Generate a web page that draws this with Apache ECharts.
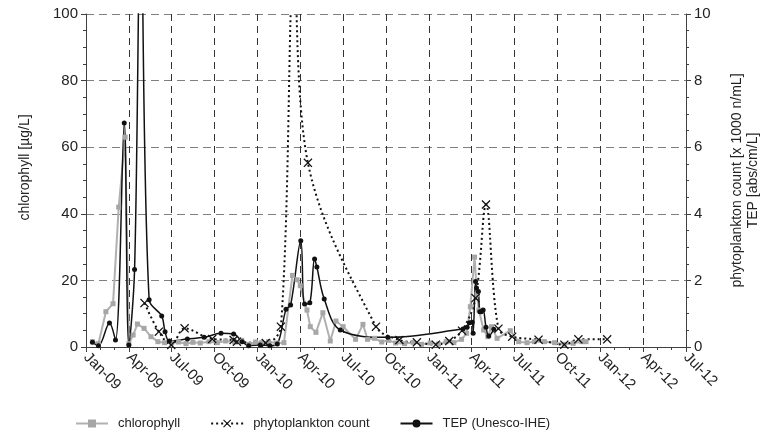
<!DOCTYPE html>
<html>
<head>
<meta charset="utf-8">
<script src="https://cdn.jsdelivr.net/npm/echarts@6/dist/echarts.min.js"></script>
<style>
    html, body { margin: 0; padding: 0; background: #fff; }
    #chart { width: 769px; height: 448px; }
</style>
</head>
<body>
<div id="chart"></div>
<script>
    // x axis: one tick every quarter from Jan-09 to Jul-12
    var xTickLabels = ['Jan-09', 'Apr-09', 'Jul-09', 'Oct-09', 'Jan-10', 'Apr-10', 'Jul-10', 'Oct-10',
        'Jan-11', 'Apr-11', 'Jul-11', 'Oct-11', 'Jan-12', 'Apr-12', 'Jul-12']

    // chlorophyll [ug/L] - left axis
    var chlDates = ['2009-01-15', '2009-01-28', '2009-02-12', '2009-02-26', '2009-03-10', '2009-03-24', '2009-04-01',
        '2009-04-10', '2009-04-19', '2009-05-03', '2009-05-18', '2009-06-02', '2009-06-16', '2009-07-01', '2009-07-16',
        '2009-08-01', '2009-08-16', '2009-09-01', '2009-09-19', '2009-10-07', '2009-10-25', '2009-11-13', '2009-11-28',
        '2009-12-13', '2009-12-28', '2010-01-10', '2010-01-25', '2010-02-10', '2010-02-25', '2010-03-15', '2010-03-25',
        '2010-04-01', '2010-04-15', '2010-04-22', '2010-05-04', '2010-05-19', '2010-06-04', '2010-06-16', '2010-07-01',
        '2010-07-28', '2010-08-13', '2010-08-23', '2010-09-07', '2010-09-22', '2010-10-07', '2010-10-22', '2010-11-10',
        '2010-11-28', '2010-12-16', '2011-01-04', '2011-01-22', '2011-02-07', '2011-02-22', '2011-03-10', '2011-03-21',
        '2011-03-29', '2011-04-07', '2011-04-12', '2011-04-16', '2011-04-26', '2011-05-05', '2011-05-13', '2011-05-25',
        '2011-06-22', '2011-07-10', '2011-07-28', '2011-08-13', '2011-09-04', '2011-09-25', '2011-10-16', '2011-11-04',
        '2011-11-22', '2011-12-01']
    var chlValues = [1.6, 1.0, 10.6, 13, 42, 63, 1.0,
        3.6, 6.9, 5.6, 3.1, 1.6, 1.3, 1.2, 1.5,
        1.0, 1.4, 1.2, 1.6, 1.3, 1.8, 1.5, 2.0,
        0.8, 1.5, 1.3, 1.6, 1.2, 1.3, 21.5, 20.2,
        18.4, 11.1, 6.1, 4.4, 10.3, 1.8, 7.8, 6.1,
        2.3, 6.8, 2.3, 2.6, 1.5, 2.0, 1.2, 1.0,
        1.4, 0.8, 1.2, 0.9, 1.6, 1.3, 2.3, 4.1,
        12.1, 27, 15.7, 11.1, 5.1, 3.1, 6.1, 2.6,
        4.9, 1.6, 1.3, 1.6, 1.6, 1.3, 0.8, 1.1,
        1.6, 1.6]

    // phytoplankton count [x 1000 n/mL] - right axis
    var phytoDates = ['2009-05-04', '2009-06-04', '2009-06-30', '2009-07-29', '2009-09-26', '2009-11-11', '2009-11-18',
        '2010-01-19', '2010-02-19', '2010-03-19', '2010-04-17', '2010-09-10', '2010-10-30', '2010-12-06', '2011-01-16',
        '2011-02-13', '2011-03-11', '2011-04-09', '2011-05-01', '2011-05-28', '2011-06-26', '2011-08-22', '2011-10-16',
        '2011-11-15', '2012-01-16']
    var phytoValues = [1.32, 0.46, 0.06, 0.56, 0.24, 0.21, 0.16,
        0.12, 0.61, 11.5, 5.53, 0.61, 0.21, 0.14, 0.07,
        0.18, 0.49, 1.47, 4.28, 0.55, 0.31, 0.22, 0.07,
        0.23, 0.23]

    // TEP [abs/cm/L] - right axis
    var tepDates = ['2009-01-15', '2009-01-28', '2009-02-19', '2009-03-03', '2009-03-22', '2009-04-01', '2009-04-13',
        '2009-04-26', '2009-05-14', '2009-06-10', '2009-06-17', '2009-06-26', '2009-08-04', '2009-09-09', '2009-10-15',
        '2009-11-11', '2009-11-29', '2009-12-13', '2010-01-07', '2010-01-28', '2010-02-12', '2010-03-01', '2010-03-11',
        '2010-04-02', '2010-04-10', '2010-04-21', '2010-05-01', '2010-05-06', '2010-05-22', '2010-06-25', '2010-10-05',
        '2011-03-13', '2011-03-22', '2011-03-27', '2011-04-02', '2011-04-04', '2011-04-09', '2011-04-11', '2011-04-15',
        '2011-04-18', '2011-04-21', '2011-04-25', '2011-05-01', '2011-05-07', '2011-05-18']
    var tepValues = [0.14, 0.04, 0.72, 0.21, 6.73, 0.06, 2.33,
        13, 1.42, 0.93, 0.46, 0.18, 0.24, 0.29, 0.41,
        0.39, 0.16, 0.04, 0.06, 0.04, 0.09, 1.13, 1.26,
        3.19, 1.29, 1.33, 2.64, 2.40, 1.44, 0.51, 0.29,
        0.54, 0.59, 0.73, 0.74, 0.41, 1.97, 1.77, 1.67,
        1.06, 1.06, 1.11, 0.59, 0.33, 0.53]

    // date string -> months since Jan 2009 (value axis position)
    function toMonths(s) {
        var p = s.split('-')
        var y = parseInt(p[0]), m = parseInt(p[1]), d = parseInt(p[2])
        var days = new Date(y, m, 0).getDate()
        return (y - 2009) * 12 + (m - 1) + (d - 1) / days
    }

    function pairs(dates, values) {
        var out = []
        for (var i = 0; i < dates.length; i++) {
            out.push([toMonths(dates[i]), values[i]])
        }
        return out
    }

    var FONT = "'Liberation Sans', Arial, sans-serif"
    var crossPath = 'path://M0,1L1,0L5,4L9,0L10,1L6,5L10,9L9,10L5,6L1,10L0,9L4,5Z'

    var chart = echarts.init(document.getElementById('chart'))

    chart.setOption({
        animation: false,
        backgroundColor: '#fff',
        grid: {
            left: 86,
            right: 79,
            top: 14,
            bottom: 101,
            containLabel: false
        },
        legend: {
            top: 412,
            left: 70,
            itemGap: 30,
            itemWidth: 32,
            itemHeight: 10,
            selectedMode: false,
            textStyle: {
                fontFamily: FONT,
                fontSize: 13,
                color: '#222',
                padding: [0, 0, 0, 5]
            },
            data: ['chlorophyll', 'phytoplankton count', 'TEP (Unesco-IHE)']
        },
        xAxis: {
            type: 'value',
            min: 0,
            max: 42,
            interval: 3,
            axisLine: { show: true, lineStyle: { color: '#404040', width: 1 } },
            axisTick: { show: true, length: 5, lineStyle: { color: '#404040' } },
            minorTick: { show: true, splitNumber: 3, length: 3, lineStyle: { color: '#404040' } },
            splitLine: {
                show: true,
                lineStyle: { color: '#333', type: [7, 5], width: 1 }
            },
            axisLabel: {
                rotate: -45,
                margin: 8,
                fontFamily: FONT,
                fontSize: 15,
                color: '#222',
                formatter: function (v) {
                    return xTickLabels[Math.round(v / 3)]
                }
            }
        },
        yAxis: [
            {
                type: 'value',
                position: 'left',
                min: 0,
                max: 100,
                interval: 20,
                name: 'chlorophyll [µg/L]',
                nameLocation: 'middle',
                nameRotate: 90,
                nameGap: 54,
                nameTextStyle: { fontFamily: FONT, fontSize: 14, color: '#222', padding: [0, 0, 0, 26] },
                axisLine: { show: true, lineStyle: { color: '#404040', width: 1 } },
                axisTick: { show: true, length: 5, lineStyle: { color: '#404040' } },
                minorTick: { show: true, splitNumber: 4, length: 3, lineStyle: { color: '#404040' } },
                splitLine: {
                    show: true,
                    lineStyle: { color: '#7f7f7f', type: [8, 5], width: 1 }
                },
                axisLabel: { fontFamily: FONT, fontSize: 15, color: '#222', margin: 8 }
            },
            {
                type: 'value',
                position: 'right',
                min: 0,
                max: 10,
                interval: 2,
                name: 'phytoplankton count [x 1000 n/mL]\nTEP [abs/cm/L]',
                nameLocation: 'middle',
                nameRotate: 90,
                nameGap: 43,
                nameTextStyle: { fontFamily: FONT, fontSize: 14, color: '#222', lineHeight: 16, align: 'center' },
                axisLine: { show: true, lineStyle: { color: '#404040', width: 1 } },
                axisTick: { show: true, length: 5, lineStyle: { color: '#404040' } },
                minorTick: { show: true, splitNumber: 4, length: 3, lineStyle: { color: '#404040' } },
                splitLine: { show: false },
                axisLabel: { fontFamily: FONT, fontSize: 15, color: '#222', margin: 8 }
            }
        ],
        series: [
            {
                name: 'chlorophyll',
                type: 'line',
                yAxisIndex: 0,
                symbol: 'rect',
                symbolSize: 5,
                showAllSymbol: true,
                itemStyle: { color: '#a6a6a6' },
                lineStyle: { color: '#b0b0b0', width: 2 },
                data: pairs(chlDates, chlValues)
            },
            {
                name: 'phytoplankton count',
                type: 'line',
                yAxisIndex: 1,
                smooth: 0.35,
                symbol: crossPath,
                symbolSize: 9,
                showAllSymbol: true,
                itemStyle: { color: '#111' },
                lineStyle: { color: '#111', width: 2, type: [2, 3] },
                data: pairs(phytoDates, phytoValues)
            },
            {
                name: 'TEP (Unesco-IHE)',
                type: 'line',
                yAxisIndex: 1,
                smooth: 0.35,
                symbol: 'circle',
                symbolSize: 5,
                showAllSymbol: true,
                itemStyle: { color: '#111' },
                lineStyle: { color: '#111', width: 1.5 },
                data: pairs(tepDates, tepValues)
            }
        ]
    })
</script>
</body>
</html>
